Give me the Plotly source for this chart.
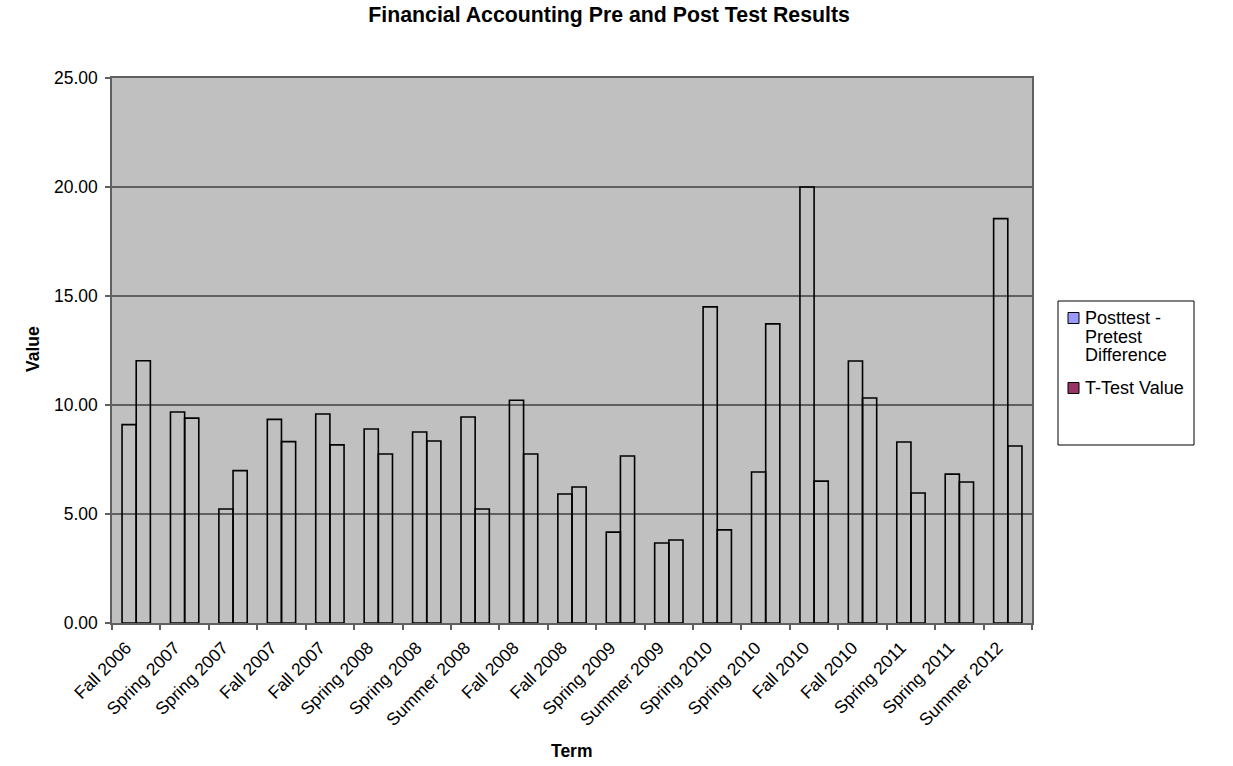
import plotly.graph_objects as go

terms = ["Fall 2006", "Spring 2007", "Spring 2007", "Fall 2007", "Fall 2007",
         "Spring 2008", "Spring 2008", "Summer 2008", "Fall 2008", "Fall 2008",
         "Spring 2009", "Summer 2009", "Spring 2010", "Spring 2010", "Fall 2010",
         "Fall 2010", "Spring 2011", "Spring 2011", "Summer 2012"]
diff_vals = [9.1, 9.68, 5.23, 9.34, 9.59, 8.9, 8.76, 9.45, 10.22, 5.92,
             4.17, 3.67, 14.5, 6.93, 20.0, 12.02, 8.3, 6.83, 18.55]
ttest_vals = [12.03, 9.4, 6.99, 8.32, 8.17, 7.75, 8.35, 5.23, 7.75, 6.24,
              7.66, 3.81, 4.27, 13.72, 6.51, 10.32, 5.96, 6.47, 8.12]
series_names = ["Posttest - Pretest Difference", "T-Test Value"]
legend_lines = [["Posttest -", "Pretest", "Difference"], ["T-Test Value"]]
series_colors = ["#9999FF", "#993366"]
y_ticks = [0, 5, 10, 15, 20, 25]

x = list(range(len(terms)))
FONT = "Liberation Sans, Arial, sans-serif"

# plot area in pixels
L, R, T, B = 112, 1032, 78, 623
def px(xp):
    return (xp - L) / (R - L)
def py(yp):
    return (B - yp) / (B - T)

fig = go.Figure()
for name, vals in zip(series_names, (diff_vals, ttest_vals)):
    fig.add_trace(go.Bar(
        x=x, y=vals, name=name, showlegend=False,
        marker=dict(color="rgba(0,0,0,0)", line=dict(color="black", width=1.6)),
    ))

shapes = []
annotations = []
# manual legend (Excel-style tight line spacing)
shapes.append(dict(type="rect", xref="paper", yref="paper",
                   x0=px(1058), x1=px(1194), y0=py(445), y1=py(301),
                   line=dict(color="black", width=1), fillcolor="white", layer="above"))
line_h = 18.5
entry_y = [318, 388]
for lines, col, y0 in zip(legend_lines, series_colors, entry_y):
    shapes.append(dict(type="rect", xref="paper", yref="paper",
                       x0=px(1068), x1=px(1079), y0=py(y0 + 5.5), y1=py(y0 - 5.5),
                       line=dict(color="black", width=1), fillcolor=col, layer="above"))
    for i, t in enumerate(lines):
        annotations.append(dict(text=t, xref="paper", yref="paper",
                                x=px(1083), y=py(y0 + i * line_h), xanchor="left", yanchor="middle",
                                showarrow=False, font=dict(size=18)))
# axis titles
annotations.append(dict(text="<b>Value</b>", xref="paper", yref="paper", x=px(33), y=py(349),
                        textangle=-90, showarrow=False, xanchor="center", yanchor="middle",
                        font=dict(size=17.5)))
annotations.append(dict(text="<b>Term</b>", xref="paper", yref="paper", x=px(572), y=py(751),
                        showarrow=False, xanchor="center", yanchor="middle", font=dict(size=17.5)))

fig.update_layout(
    width=1233, height=766,
    margin=dict(l=L, r=1233 - R, t=T, b=766 - B),
    paper_bgcolor="white", plot_bgcolor="#C0C0C0",
    barmode="group", bargap=0.415, bargroupgap=0,
    font=dict(family=FONT, size=17.5, color="black"),
    title=dict(text="<b>Financial Accounting Pre and Post Test Results</b>",
               x=0.494, xref="container", xanchor="center", y=1 - 15 / 766, yanchor="middle",
               font=dict(size=21.3)),
    showlegend=False,
    shapes=shapes, annotations=annotations,
    xaxis=dict(
        range=[-0.5, len(terms) - 0.5], tickmode="array", tickvals=x, ticktext=terms,
        tickangle=-45, ticks="", showgrid=False, zeroline=False,
        showline=True, linecolor="#606060", linewidth=1.5, mirror=True,
        tickfont=dict(size=17.5), ticklabelshift=-10, ticklabelstandoff=6,
        minor=dict(tickmode="array", tickvals=[i - 0.5 for i in range(len(terms) + 1)],
                   ticks="outside", ticklen=5, tickcolor="#606060", tickwidth=1.5, showgrid=False),
    ),
    yaxis=dict(
        range=[0, 25], tickmode="array", tickvals=y_ticks,
        ticktext=[f"{v:.2f}" for v in y_ticks],
        ticks="outside", ticklen=5, tickcolor="#606060", tickwidth=1.5,
        tickfont=dict(size=17.5), ticklabelstandoff=4,
        showgrid=True, gridcolor="#606060", gridwidth=1.5, zeroline=False,
        showline=True, linecolor="#606060", linewidth=1.5, mirror=True,
    ),
)

fig.write_html("out.html")
